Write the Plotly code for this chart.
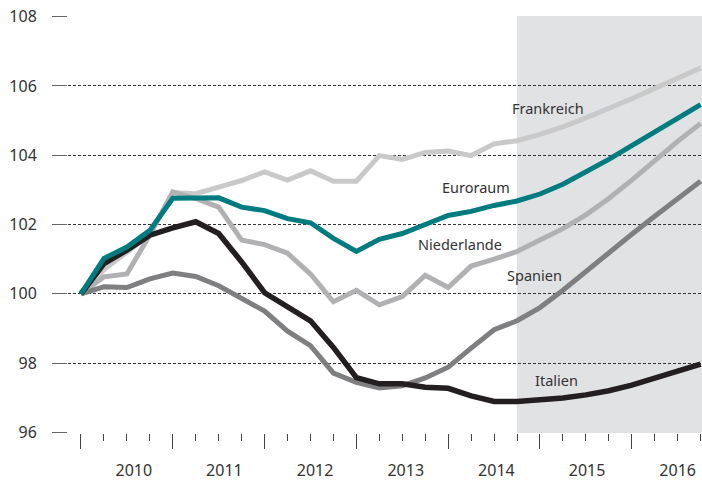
import plotly.graph_objects as go

# ---- data (quarterly index, first quarter = 100) ----
quarter_index = list(range(28))
forecast_start_index = 19  # first forecast quarter (shaded)

frankreich = [100, 100.7, 101.2, 101.7, 102.92, 102.89, 103.08, 103.27, 103.52, 103.28,
              103.55, 103.25, 103.25, 103.99, 103.88, 104.08, 104.12, 103.99, 104.33, 104.42,
              104.6, 104.82, 105.08, 105.35, 105.63, 105.93, 106.22, 106.52]
euroraum = [100, 101.02, 101.35, 101.83, 102.76, 102.78, 102.77, 102.5, 102.4, 102.17,
            102.05, 101.6, 101.22, 101.57, 101.74, 102.0, 102.26, 102.38, 102.55, 102.68,
            102.88, 103.16, 103.5, 103.88, 104.28, 104.68, 105.07, 105.46]
niederlande = [100, 100.49, 100.57, 101.7, 102.94, 102.75, 102.5, 101.55, 101.42, 101.17,
               100.57, 99.77, 100.1, 99.68, 99.92, 100.53, 100.18, 100.8, 101.0, 101.22,
               101.55, 101.88, 102.28, 102.75, 103.28, 103.85, 104.4, 104.92]
spanien = [100, 100.2, 100.18, 100.43, 100.6, 100.5, 100.23, 99.88, 99.5, 98.92,
           98.5, 97.71, 97.44, 97.28, 97.34, 97.57, 97.88, 98.43, 98.96, 99.22,
           99.6, 100.1, 100.65, 101.2, 101.72, 102.24, 102.75, 103.25]
italien = [100, 100.87, 101.26, 101.69, 101.9, 102.08, 101.74, 100.92, 100.03, 99.62,
           99.22, 98.45, 97.58, 97.4, 97.4, 97.3, 97.27, 97.05, 96.89, 96.89,
           96.93, 96.99, 97.08, 97.2, 97.36, 97.55, 97.75, 97.97]

year_labels = ["2010", "2011", "2012", "2013", "2014", "2015", "2016"]
y_ticks = [96, 98, 100, 102, 104, 106, 108]

# (name, values, colour, width, x-axis)
series = [
    ("Frankreich", frankreich, "#c9c9c9", 5, "x"),
    ("Niederlande", niederlande, "#b1b1b3", 5, "x"),
    ("Spanien", spanien, "#7f7f81", 5, "x"),
    ("Italien", italien, "#231f20", 5.5, "x"),
    ("Euroraum", euroraum, "#007c80", 5, "x2"),
]

# label anchor: (x index, y value)
label_pos = {
    "Frankreich": (20.35, 105.37),
    "Euroraum": (17.2, 103.07),
    "Niederlande": (16.5, 101.43),
    "Spanien": (19.75, 100.54),
    "Italien": (20.7, 97.5),
}

FONT = "Noto Sans"
TXT = "#333333"

fig = go.Figure()
for name, vals, color, w, xa in series:
    fig.add_trace(go.Scatter(
        x=quarter_index, y=vals, mode="lines", name=name, xaxis=xa, yaxis="y",
        line=dict(color=color, width=w), hoverinfo="skip", showlegend=False,
    ))

for name, (lx, ly) in label_pos.items():
    fig.add_annotation(x=lx, y=ly, xref="x", yref="y", text=name, showarrow=False,
                       font=dict(family=FONT, size=14.5, color=TXT),
                       xanchor="center", yanchor="middle")

# forecast shading
fig.add_shape(type="rect", xref="x", yref="paper",
              x0=forecast_start_index, x1=quarter_index[-1] + 0.2, y0=0, y1=1,
              fillcolor="#e1e2e4", line=dict(width=0), layer="below")

x_range = [-0.566, 27.06]
label_pos_x = [2.3 + 3.95 * k for k in range(len(year_labels))]
major_ticks = [q for q in quarter_index if q % 4 == 0]

fig.update_layout(
    width=702, height=480,
    margin=dict(l=68, r=0, t=16, b=47, autoexpand=False),
    paper_bgcolor="white", plot_bgcolor="white",
    font=dict(family=FONT, color=TXT),
    xaxis=dict(
        range=x_range, showgrid=False, zeroline=False, showline=False, automargin=False,
        tickmode="array", tickvals=label_pos_x, ticktext=year_labels,
        ticks="", tickfont=dict(size=16, color=TXT), ticklabelstandoff=26,
        minor=dict(tickmode="array", tickvals=quarter_index, ticks="outside",
                   ticklen=7, tickwidth=1, tickcolor="#444444", showgrid=False),
    ),
    xaxis2=dict(
        range=x_range, overlaying="x", anchor="y", side="bottom", automargin=False,
        showgrid=False, zeroline=False, showline=False,
        tickmode="array", tickvals=major_ticks, ticks="outside", ticklen=15,
        tickwidth=1, tickcolor="#444444", showticklabels=False,
    ),
    yaxis=dict(
        range=[95.98, 108.02], tickmode="array", tickvals=y_ticks, automargin=False,
        showgrid=True, gridcolor="#333333", gridwidth=1, griddash="3px,2px",
        zeroline=False, showline=False,
        ticks="outside", ticklen=15, tickwidth=1, tickcolor="#666666",
        tickfont=dict(size=16, color=TXT), ticklabelstandoff=12,
    ),
)

fig.write_html("out.html", config={"displayModeBar": False},
               post_script="document.body.style.margin='0';document.body.style.overflow='hidden';")
